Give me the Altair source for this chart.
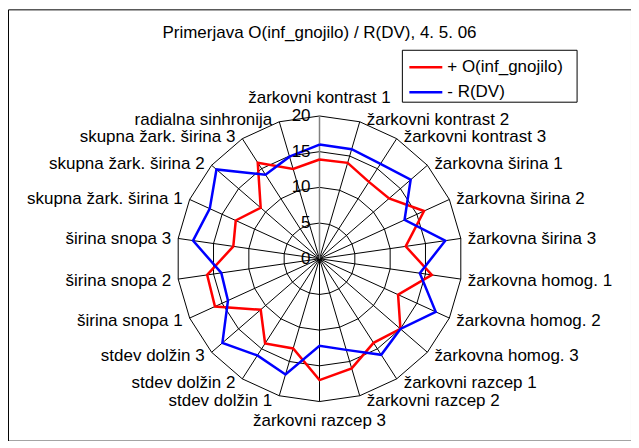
import altair as alt
import pandas as pd

categories = [
    "žarkovni kontrast 1", "žarkovni kontrast 2", "žarkovni kontrast 3",
    "žarkovna širina 1", "žarkovna širina 2", "žarkovna širina 3",
    "žarkovna homog. 1", "žarkovna homog. 2", "žarkovna homog. 3",
    "žarkovni razcep 1", "žarkovni razcep 2", "žarkovni razcep 3",
    "stdev dolžin 1", "stdev dolžin 2", "stdev dolžin 3",
    "širina snopa 1", "širina snopa 2", "širina snopa 3",
    "skupna žark. širina 1", "skupna žark. širina 2", "skupna žark. širina 3",
    "radialna sinhronija",
]
series_names = ["+ O(inf_gnojilo)", "- R(DV)"]
series_colors = ["#ff0000", "#0000ff"]
red_values = [13.9, 14.0, 12.8, 12.9, 16.1, 12.2, 15.9, 12.1, 15.0, 14.0, 16.0,
              17.0, 13.1, 14.1, 10.9, 16.1, 15.9, 12.2, 12.9, 10.9, 16.0, 13.1]
blue_values = [16.0, 16.0, 15.8, 16.9, 13.1, 17.8, 14.2, 17.9, 15.0, 16.0, 13.3,
               12.2, 16.9, 16.1, 18.0, 14.1, 13.9, 17.9, 16.9, 19.1, 14.0, 14.9]
ring_levels = [5, 10, 15, 20]
tick_values = [0, 5, 10, 15, 20]
title_text = "Primerjava O(inf_gnojilo) / R(DV), 4. 5. 06"

N = len(categories)
FONT = "Liberation Sans"
FS = 17

# tables built from the lists
rows = []
for name, vals in zip(series_names, [red_values, blue_values]):
    for i in range(N + 1):
        rows.append({"series": name, "idx": i, "value": vals[i % N]})
series_df = pd.DataFrame(rows)

ring_rows = []
for lv in ring_levels:
    for i in range(N + 1):
        ring_rows.append({"level": lv, "idx": i})
ring_df = pd.DataFrame(ring_rows)

spoke_df = pd.DataFrame({"idx": list(range(N)), "category": categories, "r": [20] * N})
tick_df = pd.DataFrame({"level": tick_values, "label": [str(t) for t in tick_values]})
title_df = pd.DataFrame({"t": [title_text]})

ANG = f"datum.idx * 2 * PI / {N}"
xs = alt.Scale(domain=[-43.64, 43.64], nice=False, zero=False)
ys = alt.Scale(domain=[-25.48, 34.94], nice=False, zero=False)

rings = alt.Chart(ring_df).transform_calculate(
    px=f"datum.level * sin({ANG})", py=f"datum.level * cos({ANG})"
).mark_line(color="black", strokeWidth=1).encode(
    x=alt.X("px:Q", scale=xs, axis=None),
    y=alt.Y("py:Q", scale=ys, axis=None),
    detail="level:N",
    order="idx:Q",
)

spokes = alt.Chart(spoke_df).transform_calculate(
    px=f"datum.r * sin({ANG})", py=f"datum.r * cos({ANG})", zero="0"
).transform_filter("datum.idx > 0").mark_rule(color="black", strokeWidth=1).encode(
    x=alt.X("zero:Q", scale=xs, axis=None),
    y=alt.Y("zero:Q", scale=ys, axis=None),
    x2="px:Q",
    y2="py:Q",
)

value_axis = alt.Chart(spoke_df).transform_calculate(
    px=f"datum.r * sin({ANG})", py=f"datum.r * cos({ANG})", zero="0"
).transform_filter("datum.idx == 0").mark_rule(color="#808080", strokeWidth=1.5).encode(
    x=alt.X("zero:Q", scale=xs, axis=None),
    y=alt.Y("zero:Q", scale=ys, axis=None),
    x2="px:Q",
    y2="py:Q",
)

lines = alt.Chart(series_df).transform_calculate(
    px=f"datum.value * sin({ANG})", py=f"datum.value * cos({ANG})"
).mark_line(strokeWidth=2.5).encode(
    x=alt.X("px:Q", scale=xs, axis=None),
    y=alt.Y("py:Q", scale=ys, axis=None),
    order="idx:Q",
    color=alt.Color(
        "series:N",
        scale=alt.Scale(domain=series_names, range=series_colors),
        legend=None,
    ),
)

tick_labels = alt.Chart(tick_df).transform_calculate(zero="0").mark_text(
    align="right", baseline="middle", dx=-9, font=FONT, fontSize=FS, color="black"
).encode(
    x=alt.X("zero:Q", scale=xs, axis=None),
    y=alt.Y("level:Q", scale=ys, axis=None),
    text="label:N",
)

label_base = alt.Chart(spoke_df).transform_calculate(
    s=f"sin({ANG})", c=f"cos({ANG})"
).transform_calculate(
    lx="datum.r * datum.s",
    ly="abs(datum.s) < 0.01 ? (datum.c > 0 ? 22.5 : -22.7) : (20.5 * datum.c - 0.2)",
)


def label_layer(cond, align, dx):
    return label_base.transform_filter(cond).mark_text(
        align=align, baseline="middle", dx=dx, font=FONT, fontSize=FS, color="black"
    ).encode(
        x=alt.X("lx:Q", scale=xs, axis=None),
        y=alt.Y("ly:Q", scale=ys, axis=None),
        text="category:N",
    )


lab_right = label_layer("datum.s > 0.01", "left", 7)
lab_left = label_layer("datum.s < -0.01", "right", -7)
lab_center = label_layer("abs(datum.s) <= 0.01", "center", 0)

title = alt.Chart(title_df).mark_text(
    align="center", baseline="middle", font=FONT, fontSize=FS, color="black"
).encode(text="t:N", x=alt.value(312), y=alt.value(24))

# legend box drawn as decoration
legend_box = alt.Chart(title_df).mark_rect(
    fill="white", stroke="black", strokeWidth=1
).encode(x=alt.value(395), x2=alt.value(570), y=alt.value(41), y2=alt.value(93))

legend_layers = [legend_box]
for k, (name, col) in enumerate(zip(series_names, series_colors)):
    ldf = pd.DataFrame({"series": [name]})
    row_y = 58 + 25 * k
    legend_layers.append(
        alt.Chart(ldf).mark_rule(color=col, strokeWidth=2.5).encode(
            x=alt.value(402), x2=alt.value(435), y=alt.value(row_y)
        )
    )
    legend_layers.append(
        alt.Chart(ldf).mark_text(
            align="left", baseline="middle", font=FONT, fontSize=FS, color="black"
        ).encode(text="series:N", x=alt.value(440), y=alt.value(row_y))
    )

chart = alt.layer(
    rings, spokes, value_axis, lines, tick_labels, lab_right, lab_left, lab_center,
    title, *legend_layers
).properties(
    width=624, height=432,
    padding={"left": 0, "top": 1, "right": 0, "bottom": 0},
    autosize=alt.AutoSizeParams(type="none"),
).configure_view(stroke="black", strokeWidth=1)

chart.save("out.html", embed_options={"renderer": "svg", "actions": False})
